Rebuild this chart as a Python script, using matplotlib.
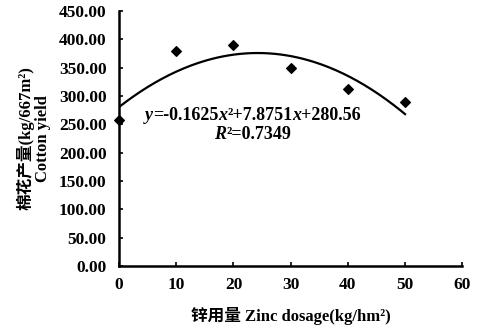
import numpy as np
import matplotlib
matplotlib.use("Agg")
import matplotlib.pyplot as plt
from matplotlib.ticker import FormatStrFormatter
from matplotlib.offsetbox import TextArea, HPacker, AnnotationBbox

plt.rcParams['font.family'] = ['Liberation Serif', 'Noto Sans CJK SC']
plt.rcParams['font.weight'] = 'bold'

# zinc dosage vs cotton yield
zinc = [0, 10, 20, 30, 40, 50]
yield_ = [257, 379, 391, 349, 313, 290]
coef = [-0.1625, 7.8751, 280.56]

fig = plt.figure(figsize=(4.8, 3.27), dpi=100)
ax = fig.add_axes([0.248, 0.187, 0.715, 0.779])

xs = np.linspace(0, 50, 200)
ax.plot(xs, np.polyval(coef, xs), color='black', lw=1.6)
ax.scatter(zinc, yield_, marker='D', s=24, color='black', zorder=3, clip_on=False)


def eq_line(parts, x, y):
    boxes = []
    for txt, it in parts:
        props = dict(fontsize=13, fontweight='bold', color='black',
                     fontstyle='italic' if it else 'normal')
        boxes.append(TextArea(txt, textprops=props))
    pack = HPacker(children=boxes, pad=0, sep=0, align='baseline')
    ab = AnnotationBbox(pack, (x, y), frameon=False, box_alignment=(0.5, 0.5), pad=0)
    ax.add_artist(ab)


eq_line([('y', True), ('=-0.1625', False), ('x', True), ('²+7.8751', False),
         ('x', True), ('+280.56', False)], 23.4, 266)
eq_line([('R', True), ('²=0.7349', False)], 23.4, 232)

ax.set_xlim(0, 60)
ax.set_ylim(0, 450)
ax.set_xticks(range(0, 61, 10))
ax.set_yticks(range(0, 451, 50))
ax.yaxis.set_major_formatter(FormatStrFormatter('%.2f'))
ax.tick_params(direction='in', length=3, width=1.2, labelsize=12.5)
ax.tick_params(axis='y', pad=9)
ax.tick_params(axis='x', pad=8)
for s in ['top', 'right']:
    ax.spines[s].set_visible(False)
for s in ['left', 'bottom']:
    ax.spines[s].set_linewidth(1.8)

ax.set_xlabel('锌用量 Zinc dosage(kg/hm²)', fontsize=12, fontweight='bold', labelpad=10)
ax.set_ylabel('棉花产量(kg/667m²)\nCotton yield', fontsize=12, fontweight='bold',
              linespacing=1.0, labelpad=6)

fig.savefig('out.png', dpi=100)
